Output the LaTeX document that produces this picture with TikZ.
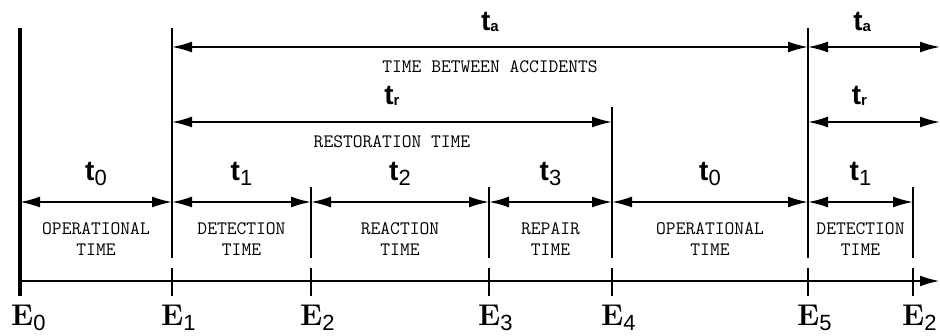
\documentclass[tikz,border=0pt]{standalone}
\usepackage{fontspec}
\setsansfont{Liberation Sans}
\usetikzlibrary{arrows.meta,positioning,calc}

\newcommand{\tlab}[1]{{\fontsize{28}{28}\selectfont\sffamily\bfseries t}\raisebox{-5pt}{\fontsize{22}{22}\selectfont\sffamily #1}}
\newcommand{\tsub}[1]{{\fontsize{28}{28}\selectfont\sffamily\bfseries t}\raisebox{-1pt}{\fontsize{15}{15}\selectfont\sffamily\bfseries #1}}
\newcommand{\elab}[1]{{\fontsize{30}{30}\selectfont\bfseries E}\raisebox{-5pt}{\fontsize{22}{22}\selectfont\sffamily #1}}

\begin{document}
\begin{tikzpicture}[x=1pt,y=-1pt, >={Latex[length=20pt,width=11pt]},
  span/.style={<->, line width=1.8pt},
  event/.style={line width=1.8pt},
  note/.style={font=\fontsize{19}{21}\selectfont\ttfamily, align=center},
  elabel/.style={anchor=base west, inner sep=0pt},
  ]
  \useasboundingbox (0,0) rectangle (940,335);
  % events on the time axis
  \draw[line width=3.5pt] (20,28) -- (20,296);
  \coordinate (e0) at (20,281);
  \coordinate (b0) at (20,202);
  \node[elabel] (E0) at (11,325) {\elab{0}};
  \foreach \n/\x/\top/\s in {1/172/28/1,2/311/187/2,3/489/187/3,4/612/107/4,5/808/28/5,6/913/187/2}{
    \draw[event] (\x,\top) -- (\x,258);
    \draw[event] (\x,268) -- (\x,296);
    \coordinate (e\n) at (\x,281);
    \coordinate (b\n) at (\x,202);
    \node[elabel] (E\n) at (\x-11,325) {\elab{\s}};
  }
  \coordinate (end) at (940,281);
  \draw[->, line width=2.6pt] (e0) -- (end);

  % phases
  \foreach \a/\b/\s/\txt in {0/1/0/{OPERATIONAL\\TIME}, 1/2/1/{DETECTION\\TIME},
      2/3/2/{REACTION\\TIME}, 3/4/3/{REPAIR\\TIME},
      4/5/0/{OPERATIONAL\\TIME}, 5/6/1/{DETECTION\\TIME}}{
    \draw[span] (b\a) -- node[above=12pt] (lbl\a) {\tlab{\s}}
      node[below=16pt, note] (txt\a) {\txt} (b\b);
  }

  % restoration and accident spans
  \coordinate (r1) at (172,122);
  \coordinate (r4) at (612,122);
  \coordinate (r5) at (808,122);
  \coordinate (r7) at (940,122);
  \coordinate (a1) at (172,47);
  \coordinate (a5) at (808,47);
  \coordinate (a7) at (940,47);
  \draw[span] (a1) -- node[above=11pt] (ta) {\tsub{a}}
    node[below=9pt, note] (tba) {TIME BETWEEN ACCIDENTS} (a5);
  \draw[span] (a5) -- node[pos=0.41, above=11pt] (ta2) {\tsub{a}} (a7);
  \draw[span] (r1) -- node[above=12pt] (tr) {\tsub{r}}
    node[below=9pt, note] (rst) {RESTORATION TIME} (r4);
  \draw[span] (r5) -- node[pos=0.39, above=12pt] (tr2) {\tsub{r}} (r7);
\end{tikzpicture}
\end{document}
